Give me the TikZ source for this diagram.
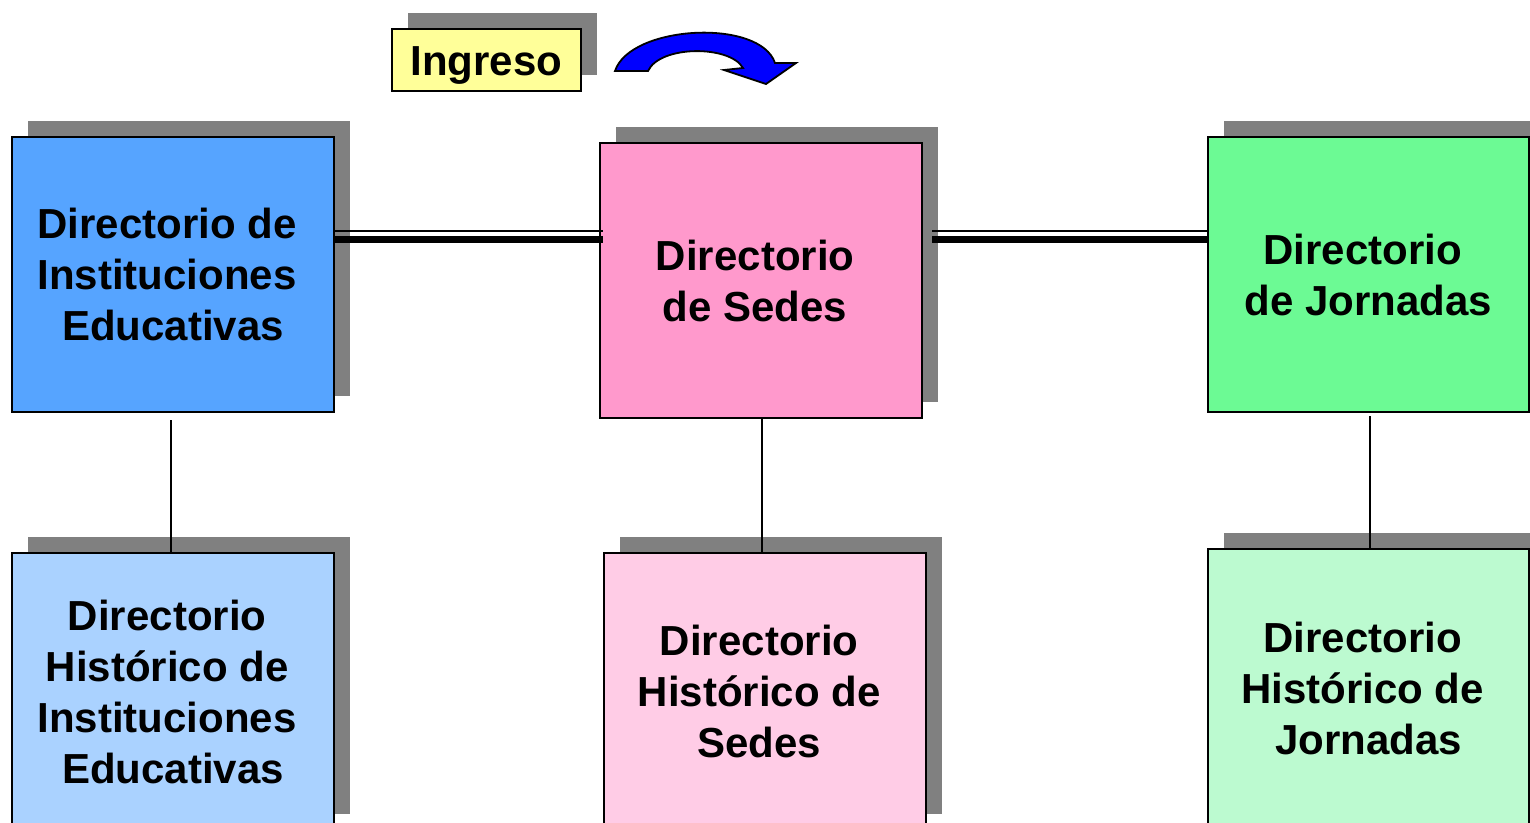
\documentclass[tikz,border=0pt]{standalone}
\usepackage{fontspec}
\setmainfont{Liberation Sans}
\usetikzlibrary{shadows}
\definecolor{shd}{RGB}{128,128,128}
\definecolor{cblue}{RGB}{86,164,255}
\definecolor{cpink}{RGB}{255,153,204}
\definecolor{cgreen}{RGB}{108,250,148}
\definecolor{clblue}{RGB}{170,210,255}
\definecolor{clpink}{RGB}{255,204,230}
\definecolor{clgreen}{RGB}{188,250,208}
\definecolor{cyel}{RGB}{255,255,153}
\definecolor{carrow}{RGB}{0,0,255}
\newcommand{\tsp}{\hbox to 0.278em{}}
\tikzset{
  dirbox/.style={draw=black, line width=1pt, inner sep=0pt, outer sep=0pt,
    minimum width=161pt, minimum height=137.5pt, align=center,
    font=\bfseries\fontsize{21}{25.5}\selectfont,
    general shadow={fill=shd, shadow xshift=8pt, shadow yshift=8pt}},
  conn/.style={line width=1pt},
  thinlink/.style={line width=1.1pt},
  thicklink/.style={line width=3.8pt}
}
\begin{document}
\begin{tikzpicture}[x=0.5pt,y=-0.5pt]
\useasboundingbox (0,0) rectangle (1530,823);
\clip (0,0) rectangle (1530,823);
% top row
\node[dirbox, fill=cblue] (ie) at (173,274.5) {Directorio de\tsp\\Instituciones\tsp\\Educativas};
\node[dirbox, fill=cpink] (sd) at (761,280.5) {Directorio\tsp\\de Sedes\tsp};
\node[dirbox, fill=cgreen, minimum width=160.5pt] (jo) at (1368.5,274.5) {Directorio\tsp\\de Jornadas};
% bottom row
\node[dirbox, fill=clblue, minimum height=138.5pt] (hie) at (173,691.5) {Directorio\tsp\\Histórico de\tsp\\Instituciones\tsp\\Educativas};
\node[dirbox, fill=clpink, minimum height=138.5pt] (hsd) at (765,691.5) {Directorio\tsp\\Histórico de\tsp\\Sedes\tsp};
\node[dirbox, fill=clgreen, minimum width=160.5pt, minimum height=139.5pt] (hjo) at (1368.5,688.5) {Directorio\tsp\\Histórico de\tsp\\Jornadas};
% Ingreso label
\node[dirbox, fill=cyel, minimum width=94.5pt, minimum height=31pt] (ing) at (486.5,60) {\raisebox{-3pt}[\height][\depth]{Ingreso}};
% double connectors
\coordinate (lyA) at (0,231);
\coordinate (lyB) at (0,239.5);
\draw[thinlink] (ie.east |- lyA) -- ([xshift=1.5pt]sd.west |- lyA);
\draw[thicklink] (ie.east |- lyB) -- ([xshift=1.5pt]sd.west |- lyB);
\draw[thinlink] ([xshift=5pt]sd.east |- lyA) -- (jo.west |- lyA);
\draw[thicklink] ([xshift=5pt]sd.east |- lyB) -- (jo.west |- lyB);
% vertical connectors
\draw[conn] ([shift={(-1pt,-4pt)}]ie.south) -- ([xshift=-1pt]ie.south |- hie.north);
\draw[conn] ([xshift=0.5pt]sd.south) -- ([xshift=0.5pt]sd.south |- hsd.north);
\draw[conn] ([shift={(0.75pt,-2pt)}]jo.south) -- ([xshift=0.75pt]jo.south |- hjo.north);
% curved arrow
\draw[fill=carrow, line width=0.9pt, line join=miter]
  (615,71) .. controls (630,25) and (760,18) .. (775,63)
  -- (796,63) -- (766,84) -- (724,70) -- (743,68)
  .. controls (730,45) and (660,45) .. (648,71) -- cycle;
\end{tikzpicture}
\end{document}
